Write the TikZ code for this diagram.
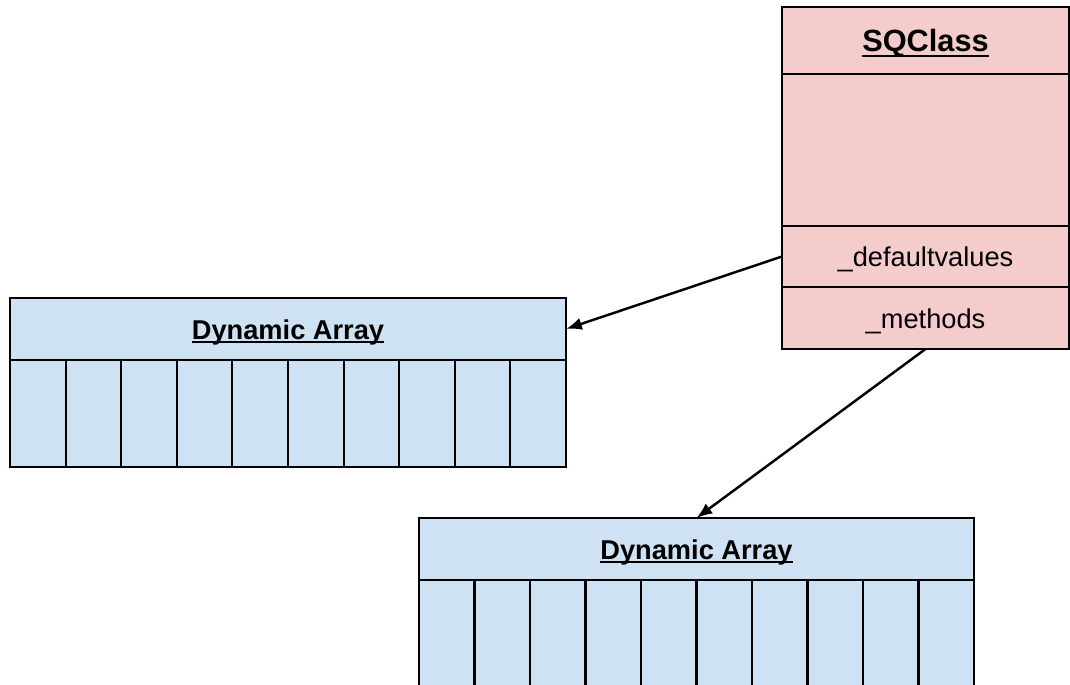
\documentclass[tikz,border=0pt]{standalone}
\usepackage{fontspec}
\setmainfont{Liberation Sans}
\usepackage{tikz}
\usetikzlibrary{arrows.meta,positioning}
\definecolor{classpink}{HTML}{F4CCCC}
\definecolor{arrayblue}{HTML}{CFE2F3}
\newcommand{\pxu}{0.02cm}
\newsavebox{\ulbox}
\newcommand{\ultext}[1]{\sbox{\ulbox}{#1}\rlap{\rule[-0.16em]{\wd\ulbox}{0.07em}}\usebox{\ulbox}}
\tikzset{
    box/.style={draw, line width=1.2pt, inner sep=0pt, outer sep=0pt,
        text height=14.7pt, text depth=3.3pt},
    classpart/.style={box, fill=classpink, minimum width=287*\pxu,
        font=\fontsize{15.5}{18}\selectfont},
    arrayhead/.style={box, fill=arrayblue, anchor=north west, minimum height=62*\pxu,
        font=\fontsize{15.5}{18}\selectfont\bfseries},
    arraycell/.style={box, fill=arrayblue, anchor=north west,
        minimum width=55.6*\pxu, minimum height=107*\pxu},
    link/.style={-{Latex[length=9pt,width=7pt]}, line width=1.4pt},
}

\begin{document}
\begin{tikzpicture}[x=\pxu, y=-\pxu]
\useasboundingbox (0,0) rectangle (1070,685);

% SQClass
\node[classpart, anchor=north west, minimum height=67*\pxu,
      text height=16.6pt, text depth=3.7pt,
      font=\fontsize{17.5}{20}\selectfont\bfseries] (sqhead) at (782,7) {\ultext{SQClass}};
\node[classpart, minimum height=152*\pxu, below=0pt of sqhead] (sqbody) {};
\node[classpart, minimum height=61*\pxu, below=0pt of sqbody] (dv) {\_defaultvalues};
\node[classpart, minimum height=62*\pxu, below=0pt of dv] (meth) {\_methods};

% first dynamic array
\node[arrayhead, minimum width=556*\pxu] (da1head) at (10,298) {\ultext{Dynamic Array}};
\foreach \i in {0,...,9}
    \node[arraycell] (da1c\i) at (10+\i*55.6,360) {};

% second dynamic array
\node[arrayhead, minimum width=555*\pxu] (da2head) at (419,518) {\ultext{Dynamic Array}};
\foreach \i in {0,...,9}
    \node[arraycell, minimum width=55.5*\pxu] (da2c\i) at (419+\i*55.5,580) {};

\draw[link] (dv.west) -- (da1head.east);
\draw[link] (meth.south) -- (da2head.north);
\end{tikzpicture}
\end{document}
